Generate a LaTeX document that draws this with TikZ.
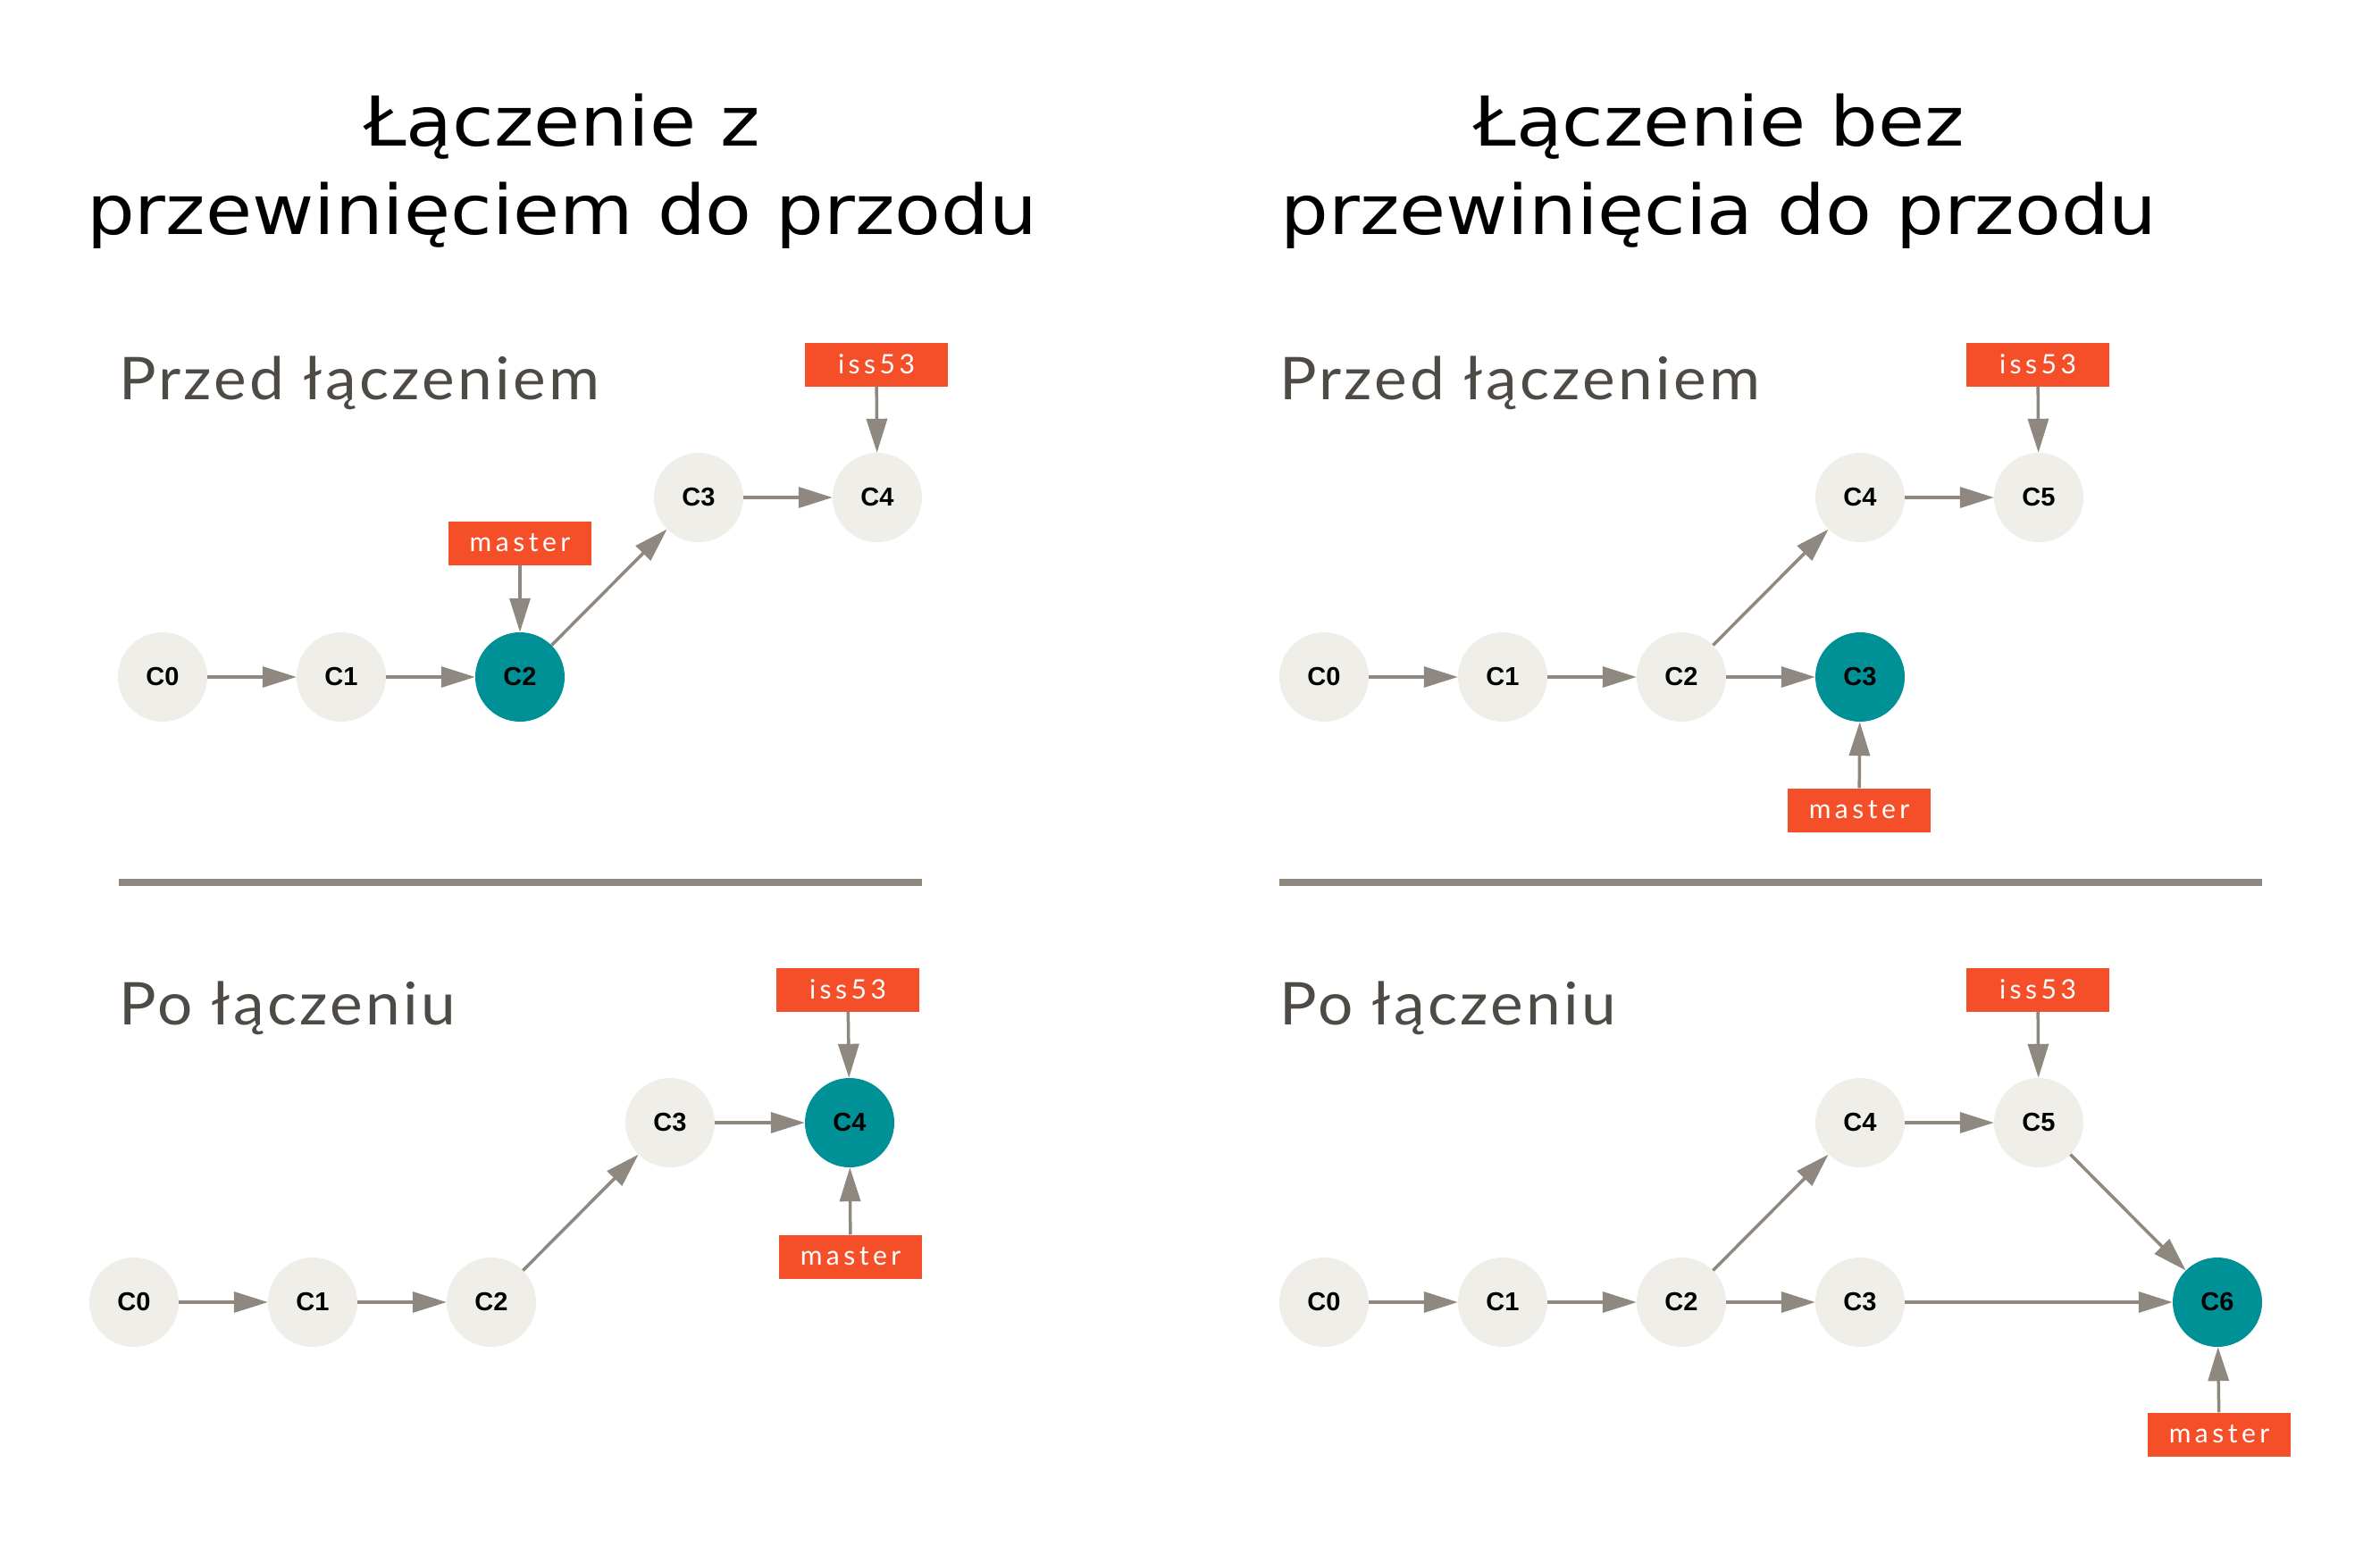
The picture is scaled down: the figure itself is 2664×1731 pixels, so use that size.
\documentclass[tikz,border=0pt]{standalone}
\usepackage{fontspec}
\usetikzlibrary{arrows.meta}
\newfontfamily\titlefont[FakeStretch=1.10]{DejaVu Sans}
\newfontfamily\subfont[FakeStretch=1.05,LetterSpace=5]{Lato}
\newfontfamily\nodefont{Liberation Sans}
\newfontfamily\labfont[LetterSpace=15]{Lato}
\definecolor{tealc}{RGB}{0,145,150}
\definecolor{orangec}{RGB}{245,79,41}
\definecolor{nodegray}{RGB}{239,238,232}
\definecolor{arrowgray}{RGB}{142,136,128}
\definecolor{subgray}{RGB}{78,74,69}
\tikzset{
  commit/.style={circle, fill=nodegray, minimum size=100pt, inner sep=0pt,
    font=\nodefont\bfseries\fontsize{29}{32}\selectfont, text=black},
  headc/.style={commit, fill=tealc},
  branch/.style={rectangle, fill=orangec, minimum width=160pt, minimum height=49pt,
    inner sep=0pt, text=white, font=\labfont\fontsize{30}{32}\selectfont},
  edge/.style={draw=arrowgray, line width=3.5pt, -{Triangle[length=38pt,width=23pt]}},
  title/.style={anchor=base, font=\titlefont\fontsize{77}{99}\selectfont, text=black, inner sep=0pt},
  subtitle/.style={anchor=base west, font=\subfont\fontsize{66}{70}\selectfont, text=subgray, inner sep=0pt},
  rule/.style={draw=arrowgray, line width=8pt}
}
\begin{document}
\begin{tikzpicture}[x=1pt,y=-1pt]
\useasboundingbox[fill=white] (0,0) rectangle (2664,1731);
% titles
\node[title] (tLa) at (629,164) {Łączenie z};
\node[title] (tLb) at (629,262) {przewinięciem do przodu};
\node[title] (tRa) at (1924,164) {Łączenie bez};
\node[title] (tRb) at (1924,262) {przewinięcia do przodu};
% subtitles
\node[subtitle] (sLa) at (133,447) {Przed łączeniem};
\node[subtitle] (sLb) at (133,1147) {Po łączeniu};
\node[subtitle] (sRa) at (1432,447) {Przed łączeniem};
\node[subtitle] (sRb) at (1432,1147) {Po łączeniu};
% rules
\coordinate (rLa) at (133,988); \coordinate (rLb) at (1032,988);
\coordinate (rRa) at (1432,988); \coordinate (rRb) at (2532,988);
\draw[rule] (rLa) -- (rLb);
\draw[rule] (rRa) -- (rRb);
% left top
\node[commit] (a0) at (182,758) {C0};
\node[commit] (a1) at (382,758) {C1};
\node[headc]  (a2) at (582,758) {C2};
\node[commit] (a3) at (782,557) {C3};
\node[commit] (a4) at (982,557) {C4};
\node[branch] (am) at (582,608) {master};
\node[branch] (ai) at (981,408) {iss53};
\draw[edge] (a0) -- (a1);
\draw[edge] (a1) -- (a2);
\draw[edge] (a2) -- (a3);
\draw[edge] (a3) -- (a4);
\draw[edge] (am) -- (a2);
\draw[edge] (ai) -- (a4);
% left bottom
\node[commit] (b0) at (150,1458) {C0};
\node[commit] (b1) at (350,1458) {C1};
\node[commit] (b2) at (550,1458) {C2};
\node[commit] (b3) at (750,1257) {C3};
\node[headc]  (b4) at (951,1257) {C4};
\node[branch] (bi) at (949,1108) {iss53};
\node[branch] (bm) at (952,1407) {master};
\draw[edge] (b0) -- (b1);
\draw[edge] (b1) -- (b2);
\draw[edge] (b2) -- (b3);
\draw[edge] (b3) -- (b4);
\draw[edge] (bi) -- (b4);
\draw[edge] (bm) -- (b4);
% right top
\node[commit] (c0) at (1482,758) {C0};
\node[commit] (c1) at (1682,758) {C1};
\node[commit] (c2) at (1882,758) {C2};
\node[headc]  (c3) at (2082,758) {C3};
\node[commit] (c4) at (2082,557) {C4};
\node[commit] (c5) at (2282,557) {C5};
\node[branch] (ci) at (2281,408) {iss53};
\node[branch] (cm) at (2081,907) {master};
\draw[edge] (c0) -- (c1);
\draw[edge] (c1) -- (c2);
\draw[edge] (c2) -- (c3);
\draw[edge] (c2) -- (c4);
\draw[edge] (c4) -- (c5);
\draw[edge] (ci) -- (c5);
\draw[edge] (cm) -- (c3);
% right bottom
\node[commit] (d0) at (1482,1458) {C0};
\node[commit] (d1) at (1682,1458) {C1};
\node[commit] (d2) at (1882,1458) {C2};
\node[commit] (d3) at (2082,1458) {C3};
\node[commit] (d4) at (2082,1257) {C4};
\node[commit] (d5) at (2282,1257) {C5};
\node[headc]  (d6) at (2482,1458) {C6};
\node[branch] (di) at (2281,1108) {iss53};
\node[branch] (dm) at (2484,1606) {master};
\draw[edge] (d0) -- (d1);
\draw[edge] (d1) -- (d2);
\draw[edge] (d2) -- (d3);
\draw[edge] (d2) -- (d4);
\draw[edge] (d4) -- (d5);
\draw[edge] (d3) -- (d6);
\draw[edge] (d5) -- (d6);
\draw[edge] (di) -- (d5);
\draw[edge] (dm) -- (d6);
\end{tikzpicture}
\end{document}
